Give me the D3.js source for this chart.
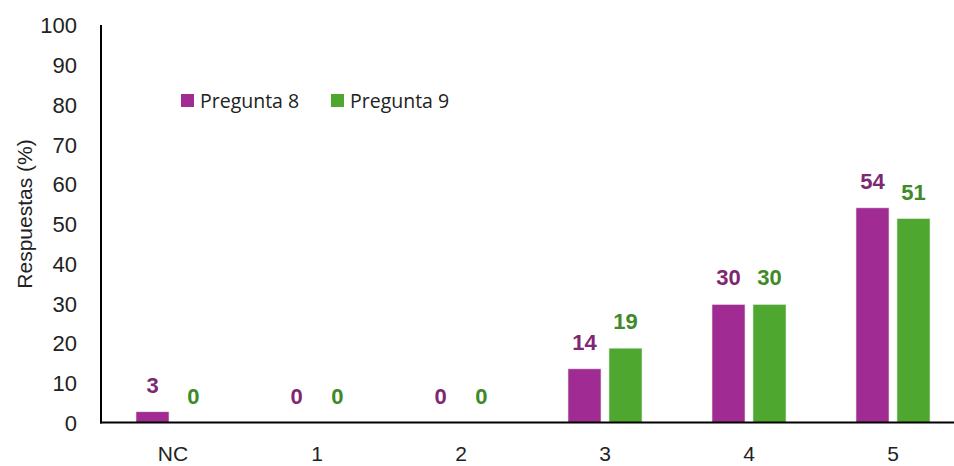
<!DOCTYPE html>
<html>
<head>
<meta charset="utf-8">
<script src="https://cdn.jsdelivr.net/npm/d3@7/dist/d3.min.js"></script>
<style>
  html, body { margin: 0; padding: 0; background: #fff; }
  svg { display: block; }
</style>
</head>
<body>
<script>
const categories = ["NC", "1", "2", "3", "4", "5"];
const seriesNames = ["Pregunta 8", "Pregunta 9"];
const pregunta8 = [2.7, 0, 0, 13.5, 29.7, 54.0];
const pregunta9 = [0, 0, 0, 18.7, 29.7, 51.3];
const labels8 = [3, 0, 0, 14, 30, 54];
const labels9 = [0, 0, 0, 19, 30, 51];
const yTicks = [0, 10, 20, 30, 40, 50, 60, 70, 80, 90, 100];

const barColors = ["#A02B93", "#4EA72E"];
const labelColors = ["#7E2773", "#3E8A26"];

const W = 954, H = 466;
const svg = d3.select("body").append("svg").attr("width", W).attr("height", H);

const x = d3.scaleBand().domain(categories).range([101, 965]).paddingInner(0).paddingOuter(0);
const xSub = d3.scaleBand().domain(seriesNames).range([-37, 37]).paddingInner(0.195).paddingOuter(0);
const y = d3.scaleLinear().domain([0, 100]).range([422.5, 25]);

// y tick labels
const yAxis = d3.axisLeft(y).tickValues(yTicks).tickSize(0).tickPadding(0);
const gy = svg.append("g").attr("transform", "translate(77,0)").call(yAxis);
gy.select(".domain").remove();
gy.selectAll("text").attr("font-family", "Liberation Sans, Arial, sans-serif").attr("font-size", 22).attr("fill", "#222").attr("dy", "0.36em");

// x category labels
const xAxis = d3.axisBottom(x).tickSize(0).tickPadding(0);
const gx = svg.append("g").attr("transform", "translate(0,461)").call(xAxis);
gx.select(".domain").remove();
gx.selectAll("text").attr("font-family", "Liberation Sans, Arial, sans-serif").attr("font-size", 21).attr("fill", "#222").attr("dy", "0").attr("y", 0);

const data = categories.map((c, i) => ({
  cat: c,
  vals: [
    { s: seriesNames[0], v: pregunta8[i], lab: labels8[i], k: 0 },
    { s: seriesNames[1], v: pregunta9[i], lab: labels9[i], k: 1 }
  ]
}));

const groups = svg.append("g").selectAll("g").data(data).join("g")
  .attr("transform", d => `translate(${x(d.cat) + x.bandwidth() / 2},0)`);

groups.selectAll("rect").data(d => d.vals.filter(v => v.v > 0)).join("rect")
  .attr("x", d => xSub(d.s))
  .attr("width", xSub.bandwidth())
  .attr("y", d => y(d.v))
  .attr("height", d => y(0) - y(d.v))
  .attr("fill", d => barColors[d.k])
  .attr("stroke", "#e8e8e8").attr("stroke-width", 0.6);

groups.selectAll("text.lab").data(d => d.vals).join("text")
  .attr("class", "lab")
  .attr("x", d => xSub(d.s) + xSub.bandwidth() / 2)
  .attr("y", d => y(d.v) - 19)
  .attr("text-anchor", "middle")
  .attr("font-family", "Liberation Sans, Arial, sans-serif")
  .attr("font-weight", "bold")
  .attr("font-size", 22)
  .attr("fill", d => labelColors[d.k])
  .text(d => d.lab);

// axis lines
svg.append("line").attr("x1", 101).attr("x2", 101).attr("y1", 25).attr("y2", 423.5).attr("stroke", "#000").attr("stroke-width", 2);
svg.append("line").attr("x1", 100).attr("x2", 954).attr("y1", y(0)).attr("y2", y(0)).attr("stroke", "#000").attr("stroke-width", 2);

// y title
svg.append("text")
  .attr("transform", "translate(32,214) rotate(-90)")
  .attr("text-anchor", "middle")
  .attr("font-family", "Liberation Sans, Arial, sans-serif")
  .attr("font-size", 21)
  .attr("fill", "#222")
  .text("Respuestas (%)");

// legend
const legendX = [181, 331];
const leg = svg.append("g").selectAll("g").data(seriesNames).join("g")
  .attr("transform", (d, i) => `translate(${legendX[i]},94)`);
leg.append("rect").attr("width", 13).attr("height", 13).attr("fill", (d, i) => barColors[i]);
leg.append("text").attr("x", 19).attr("y", 13.5)
  .attr("font-family", "Open Sans, sans-serif").attr("font-size", 19.5).attr("fill", "#222")
  .text(d => d);
</script>
</body>
</html>
